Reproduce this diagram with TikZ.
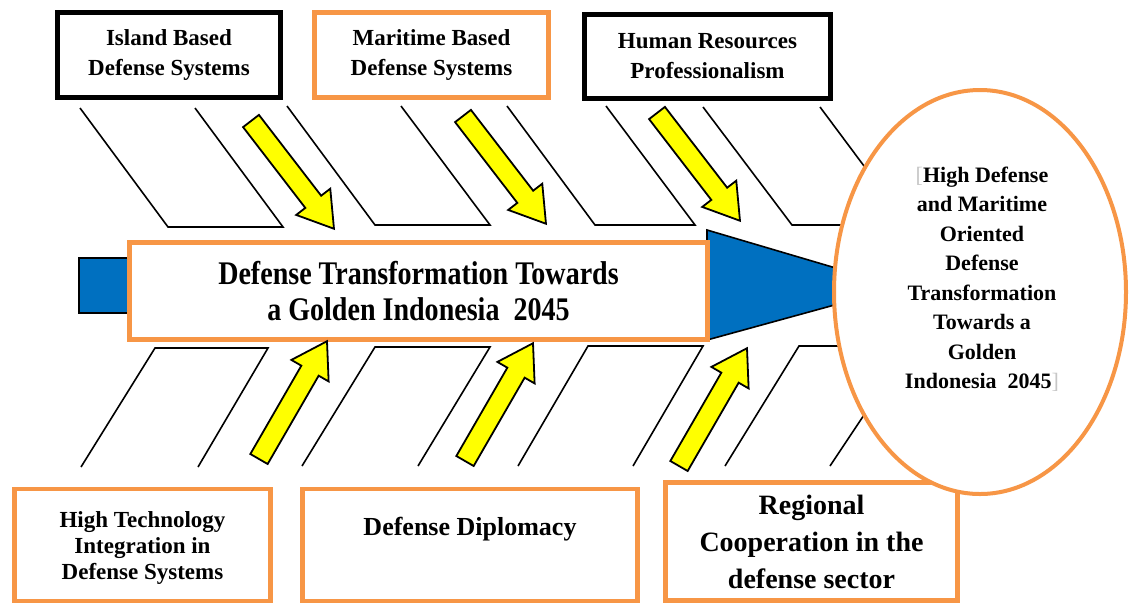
\documentclass[tikz,border=0pt]{standalone}
\usepackage{fontspec}
\setmainfont{Liberation Serif}
\newfontfamily\narrowfont{Liberation Serif}[FakeStretch=0.85]
\usepackage{tikz}
\usetikzlibrary{shapes.geometric,positioning}
\definecolor{boxorange}{HTML}{F79646}
\definecolor{fishblue}{HTML}{0070C0}
\definecolor{arrowyellow}{HTML}{FFFF00}
\tikzset{yarrow/.pic={
  \draw[line width=1.8pt,fill=arrowyellow,line join=miter] (0,-10) -- (102,-10) -- (102,-21.5) -- (136,0) -- (102,21.5) -- (102,10) -- (0,10) -- cycle;
}}

\begin{document}
\begin{tikzpicture}[x=1pt,y=-1pt,
  bone/.style={line width=1.6pt,line join=miter},
  bluepart/.style={draw=black,fill=fishblue,line width=1.6pt,line join=miter},
  blackbox/.style={draw=black,line width=5pt,fill=white,inner sep=0pt,align=center,font=\bfseries\fontsize{23}{30}\selectfont},
  orangebox/.style={draw=boxorange,line width=4.5pt,fill=white,inner sep=0pt,align=center,font=\bfseries\fontsize{23}{30}\selectfont}]
\useasboundingbox (0,0) rectangle (1129,606);
% bones above the spine
\draw[bone] (80,108) -- (168,227) -- (283,227) -- (195,108);
\draw[bone] (287,106) -- (375,225) -- (490,225) -- (401,106);
\draw[bone] (507,106) -- (595,225) -- (695,225) -- (606,106);
\draw[bone] (703,107) -- (792,225) -- (908,225) -- (820,107);
% bones below the spine
\draw[bone] (81,467) -- (155,348) -- (268,348) -- (198,467);
\draw[bone] (302,466) -- (375,347) -- (490,347) -- (418,466);
\draw[bone] (518,466) -- (588,346) -- (703,346) -- (633,466);
\draw[bone] (725,466) -- (799,346) -- (910,346) -- (830,466);
% spine
\draw[bluepart] (79,258) rectangle (140,313);
\draw[bluepart] (707,230) -- (900,287) -- (707,340) -- cycle;
\node[draw=boxorange,line width=5pt,fill=white,inner sep=0pt,minimum width=578pt,minimum height=97pt,align=center,font={\narrowfont\bfseries\fontsize{33}{36}\selectfont}] (core) at (418.5,291)
  {Defense Transformation Towards\\a Golden Indonesia\ \ 2045};
% causes
\node[blackbox,minimum width=223pt,minimum height=85pt] (island) at (169,55) {Island Based\\Defense Systems};
\node[orangebox,minimum width=234pt,minimum height=85pt] (maritime) at (431.5,55) {Maritime Based\\Defense Systems};
\node[blackbox,minimum width=246pt,minimum height=84pt] (human) at (707.5,56.5) {Human Resources\\Professionalism};
\node[orangebox,minimum width=256pt,minimum height=112pt,font=\bfseries\fontsize{23}{26}\selectfont] (tech) at (142.5,545) {\\[-4pt]High Technology\\Integration in\\Defense Systems};
\node[orangebox,minimum width=335pt,minimum height=112pt,font=\bfseries\fontsize{26}{28}\selectfont] (diplomacy) at (470,545) {Defense Diplomacy\\\strut};
\node[orangebox,minimum width=292pt,minimum height=118pt,font=\bfseries\fontsize{28}{37}\selectfont] (regional) at (811.5,541.5) {Regional\\Cooperation in the\\defense sector};
% yellow arrows
\pic[rotate=-52.4] at (251,121) {yarrow};
\pic[rotate=-52.4] at (463,116) {yarrow};
\pic[rotate=-52.4] at (657,113) {yarrow};
\pic[rotate=60] at (259,459) {yarrow};
\pic[rotate=60] at (465,461) {yarrow};
\pic[rotate=60] at (679,466) {yarrow};
% effect
\node[ellipse,draw=boxorange,line width=4pt,fill=white,inner sep=0pt,minimum width=292pt,minimum height=404pt] (goal) at (980,292) {};
\node[align=center,font=\bfseries\fontsize{22}{29.5}\selectfont] (goaltext) at (982,279)
  {{\mdseries\color{gray!45}[}High Defense\\and Maritime\\Oriented\\Defense\\Transformation\\Towards a\\Golden\\Indonesia\ \ 2045{\mdseries\color{gray!45}]}};
\end{tikzpicture}
\end{document}
